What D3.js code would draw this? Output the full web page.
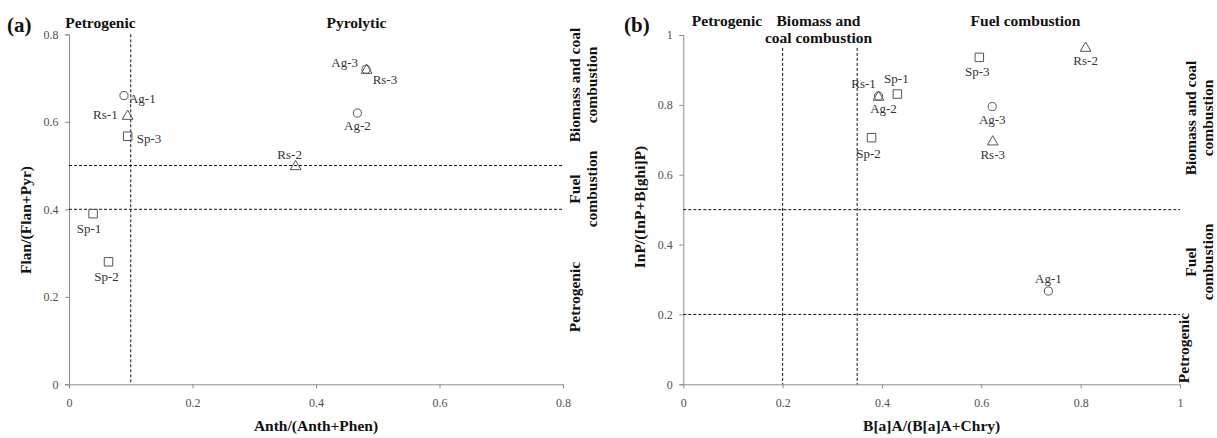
<!DOCTYPE html>
<html><head><meta charset="utf-8">
<script src="https://cdn.jsdelivr.net/npm/d3@7"></script>
<style>
body{margin:0;background:#fff;}
svg{display:block;font-family:"Liberation Serif","Times New Roman",serif;}
</style></head><body>
<svg id="chart" width="1217" height="438"></svg>
<script>
// ---- data ----
const samples = ["Ag-1","Ag-2","Ag-3","Rs-1","Rs-2","Rs-3","Sp-1","Sp-2","Sp-3"];
const sampleType = ["Ag","Ag","Ag","Rs","Rs","Rs","Sp","Sp","Sp"];
// panel (a)
const anthRatio = [0.089,0.467,0.481,0.095,0.367,0.482,0.039,0.064,0.095];
const flanRatio = [0.660,0.620,0.720,0.615,0.500,0.720,0.390,0.280,0.567];
// panel (b)
const baaRatio = [0.735,0.393,0.622,0.393,0.810,0.623,0.431,0.379,0.596];
const inpRatio = [0.267,0.825,0.795,0.825,0.965,0.697,0.831,0.706,0.936];
const ticksA_x = [0,0.2,0.4,0.6,0.8], ticksA_y = [0,0.2,0.4,0.6,0.8];
const ticksB_x = [0,0.2,0.4,0.6,0.8,1], ticksB_y = [0,0.2,0.4,0.6,0.8,1];
const threshA_x = [0.1], threshA_y = [0.4,0.5];
const threshB_x = [0.2,0.35], threshB_y = [0.2,0.5];

const svg = d3.select("#chart");
const BIG = 15.5;

function fmt(v){ return v===0?"0":(v===1?"1":String(v)); }

function drawPanel(cfg){
  const g = svg.append("g");
  const x = d3.scaleLinear().domain(cfg.xDomain).range(cfg.xRange);
  const y = d3.scaleLinear().domain(cfg.yDomain).range(cfg.yRange);

  const xa = g.append("g").attr("transform",`translate(0,${cfg.yRange[0]})`)
    .call(d3.axisBottom(x).tickValues(cfg.xTicks).tickFormat(fmt).tickSizeOuter(0).tickSize(4).tickPadding(10));
  const ya = g.append("g").attr("transform",`translate(${cfg.xRange[0]},0)`)
    .call(d3.axisLeft(y).tickValues(cfg.yTicks).tickFormat(fmt).tickSizeOuter(0).tickSize(4).tickPadding(6.5));
  [xa,ya].forEach(a=>{
    a.select(".domain").attr("stroke","#8c8c8c");
    a.selectAll(".tick line").attr("stroke","#8c8c8c");
    a.selectAll(".tick text").attr("fill","#505050").attr("font-size",12).attr("font-family","Liberation Serif");
  });
  xa.selectAll(".tick").filter(d=>d===cfg.xDomain[0]).select("line").remove();

  cfg.threshX.forEach(v=>{
    g.append("line").attr("x1",x(v)).attr("x2",x(v))
      .attr("y1",y(cfg.vTop)).attr("y2",y(cfg.yDomain[0]))
      .attr("stroke","#111").attr("stroke-width",1).attr("stroke-dasharray","3,2");
  });
  cfg.threshY.forEach(v=>{
    g.append("line").attr("x1",x(cfg.xDomain[0])).attr("x2",x(cfg.xDomain[1]))
      .attr("y1",y(v)).attr("y2",y(v))
      .attr("stroke","#111").attr("stroke-width",1).attr("stroke-dasharray","3,2");
  });

  const sym = {Ag:d3.symbolCircle, Rs:d3.symbolTriangle, Sp:d3.symbolSquare};
  const size = {Ag:52, Rs:50, Sp:72};
  samples.forEach((s,i)=>{
    const px = x(cfg.xs[i]), py = y(cfg.ys[i]);
    const t = sampleType[i];
    const dy = t==="Rs"?1:0;
    g.append("path").attr("d",d3.symbol().type(sym[t]).size(size[t])())
      .attr("transform",`translate(${px},${py+dy})`)
      .attr("fill","none").attr("stroke","#555").attr("stroke-width",1);
    const lp = cfg.labels[s];
    g.append("text").attr("x",px+lp[0]).attr("y",py+lp[1])
      .attr("text-anchor",lp[2]).attr("font-size",13).attr("fill","#333")
      .text(s);
  });

  g.append("text").attr("x",(cfg.xRange[0]+cfg.xRange[1])/2).attr("y",431)
    .attr("text-anchor","middle").attr("font-weight","bold").attr("font-size",BIG).attr("fill","#111")
    .text(cfg.xTitle);
  g.append("text").attr("transform",`translate(${cfg.yTitleX},${cfg.yTitleY}) rotate(-90)`)
    .attr("text-anchor","middle").attr("font-weight","bold").attr("font-size",BIG).attr("fill","#111")
    .text(cfg.yTitle);

  g.append("text").attr("x",cfg.letterX).attr("y",32).attr("font-weight","bold").attr("font-size",21).attr("fill","#111").text(cfg.letter);

  cfg.topLabels.forEach(l=>{
    const t = g.append("text").attr("x",l.x).attr("y",l.y).attr("text-anchor","middle")
      .attr("font-weight","bold").attr("font-size",BIG).attr("fill","#111");
    l.lines.forEach((ln,k)=>t.append("tspan").attr("x",l.x).attr("dy",k===0?0:17).text(ln));
  });
  cfg.rightLabels.forEach(l=>{
    const t = g.append("text").attr("transform",`translate(${l.x},${l.y}) rotate(-90)`)
      .attr("text-anchor","middle").attr("font-weight","bold").attr("font-size",BIG).attr("fill","#111");
    l.lines.forEach((ln,k)=>t.append("tspan").attr("x",0).attr("dy",k===0?0:17).text(ln));
  });
}

drawPanel({
  xDomain:[0,0.8], yDomain:[0,0.8], xRange:[69,563], yRange:[384.3,34.3],
  xTicks:ticksA_x, yTicks:ticksA_y, threshX:threshA_x, threshY:threshA_y, vTop:0.8,
  xs:anthRatio, ys:flanRatio,
  labels:{"Ag-1":[5,7,"start"],"Rs-1":[-10,4,"end"],"Sp-3":[9,7,"start"],"Rs-2":[-6,-7,"middle"],
          "Sp-1":[-4,19,"middle"],"Sp-2":[-2,19,"middle"],"Ag-3":[-8,-2,"end"],"Rs-3":[6,15,"start"],"Ag-2":[0,17,"middle"]},
  xTitle:"Anth/(Anth+Phen)", yTitle:"Flan/(Flan+Pyr)", yTitleX:31, yTitleY:220,
  letter:"(a)", letterX:7,
  topLabels:[{x:100.5,y:28,lines:["Petrogenic"]},{x:356.5,y:28,lines:["Pyrolytic"]}],
  rightLabels:[{x:580,y:85,lines:["Biomass and coal","combustion"]},
               {x:580,y:189,lines:["Fuel","combustion"]},
               {x:580,y:297,lines:["Petrogenic"]}]
});

drawPanel({
  xDomain:[0,1], yDomain:[0,1], xRange:[683.3,1180], yRange:[384.3,35],
  xTicks:ticksB_x, yTicks:ticksB_y, threshX:threshB_x, threshY:threshB_y, vTop:0.963,
  xs:baaRatio, ys:inpRatio,
  labels:{"Ag-1":[0,-8,"middle"],"Ag-2":[5,17,"middle"],"Ag-3":[0,17,"middle"],"Rs-1":[-15,-8,"middle"],
          "Rs-2":[0,18,"middle"],"Rs-3":[0,18,"middle"],"Sp-1":[-1,-11,"middle"],"Sp-2":[-3,20,"middle"],"Sp-3":[-2,19,"middle"]},
  xTitle:"B[a]A/(B[a]A+Chry)", yTitle:"InP/(InP+B[ghi]P)", yTitleX:645, yTitleY:207,
  letter:"(b)", letterX:624,
  topLabels:[{x:727,y:26,lines:["Petrogenic"]},{x:818.5,y:26,lines:["Biomass and","coal combustion"]},{x:1025.5,y:26,lines:["Fuel combustion"]}],
  rightLabels:[{x:1196,y:118,lines:["Biomass and coal","combustion"]},
               {x:1196,y:262,lines:["Fuel","combustion"]},
               {x:1189,y:348,lines:["Petrogenic"]}]
});
</script>
</body></html>
